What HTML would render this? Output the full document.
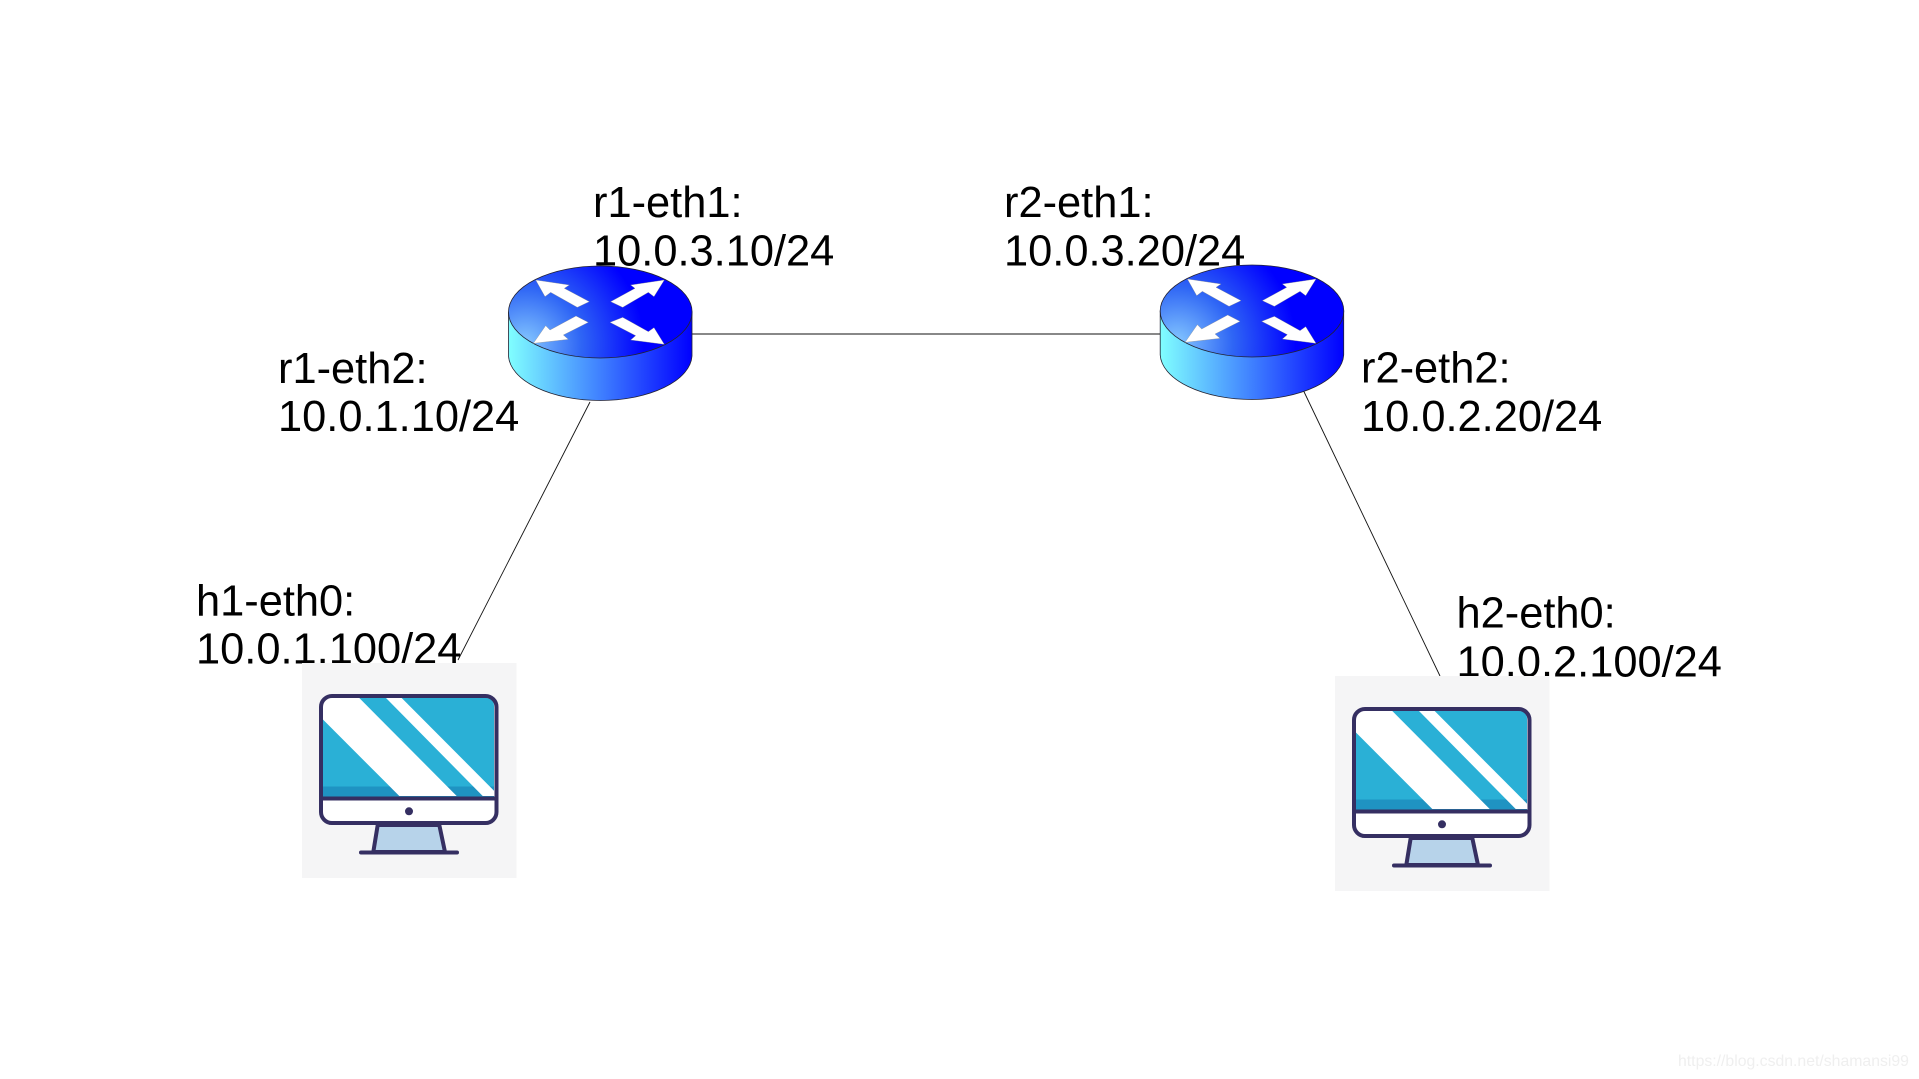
<!DOCTYPE html>
<html>
<head>
<meta charset="utf-8">
<style>
html,body{margin:0;padding:0;background:#fff;width:1919px;height:1079px;overflow:hidden}
svg{display:block}
text{font-family:"Liberation Sans",sans-serif;font-size:43.4px;fill:#000}
</style>
</head>
<body>
<svg width="1919" height="1079" viewBox="0 0 1919 1079" xmlns="http://www.w3.org/2000/svg">
<defs>
<linearGradient id="side" x1="0" y1="0" x2="1" y2="0">
<stop offset="0" stop-color="#80ffff"/>
<stop offset="0.5" stop-color="#3f80ff"/>
<stop offset="1" stop-color="#0000ff"/>
</linearGradient>
<radialGradient id="top" gradientUnits="userSpaceOnUse" cx="525" cy="344" r="140">
<stop offset="0" stop-color="#85c8ff"/>
<stop offset="0.4" stop-color="#2f66f5"/>
<stop offset="0.85" stop-color="#0000ff"/>
<stop offset="1" stop-color="#0000ff"/>
</radialGradient>
<g id="router">
<path d="M508.5 312 V356 A91.8 46 0 0 0 692 356 V312 Z" fill="url(#side)" stroke="#223" stroke-width="0.8"/>
<ellipse cx="600.3" cy="312" rx="91.8" ry="46" fill="url(#top)" stroke="#223" stroke-width="0.8"/>
<g transform="translate(480,160) scale(0.33333)" fill="#fff" stroke="#888" stroke-width="1">
<polygon points="167,360 268,375 253,385 328,425 292,442 212,397 195,410"/>
<polygon points="553,360 452,375 465,385 392,425 428,442 505,397 522,410"/>
<polygon points="160,550 265,538 250,525 325,487 288,468 210,510 197,497"/>
<polygon points="553,553 452,540 467,527 390,487 428,472 505,515 522,503"/>
</g>
</g>
<g id="host">
<rect x="302" y="663" width="214.5" height="215" fill="#f5f5f6"/>
<rect x="321" y="696" width="175.5" height="127" rx="11" fill="#fff"/>
<path d="M323 796 V706 Q323 698 331 698 H486 Q494 698 494 706 V796 Z" fill="#2ab0d6"/>
<rect x="323" y="786.5" width="171" height="10" fill="#1f93c2"/>
<polygon points="322.7,698 359.3,698 456.7,796 399.3,796 322.7,719.3" fill="#fff"/>
<polygon points="386,698 401.7,698 495,791.7 495,796 482.7,796" fill="#fff"/>
<rect x="321" y="696" width="175.5" height="127" rx="11" fill="none" stroke="#352f62" stroke-width="4"/>
<rect x="321" y="796.5" width="175.5" height="4" fill="#352f62"/>
<circle cx="409" cy="811.3" r="4" fill="#352f62"/>
<polygon points="377.7,825 439.3,825 445,852 373.3,852" fill="#b7d3ea" stroke="#352f62" stroke-width="4"/>
<line x1="361" y1="852.5" x2="457" y2="852.5" stroke="#352f62" stroke-width="4" stroke-linecap="round"/>
</g>
</defs>

<line x1="692" y1="334" x2="1160" y2="334" stroke="#111" stroke-width="0.9"/>
<line x1="590" y1="402" x2="458" y2="660" stroke="#111" stroke-width="0.9"/>
<line x1="1302.7" y1="389" x2="1440" y2="676" stroke="#111" stroke-width="0.9"/>

<text x="593" y="217">r1-eth1:</text>
<text x="593" y="265.5">10.0.3.10/24</text>
<text x="1004" y="217">r2-eth1:</text>
<text x="1004" y="265.5">10.0.3.20/24</text>
<text x="278" y="383">r1-eth2:</text>
<text x="278" y="431">10.0.1.10/24</text>
<text x="1361" y="382.5">r2-eth2:</text>
<text x="1361" y="431">10.0.2.20/24</text>
<text x="196" y="615.5">h1-eth0:</text>
<text x="196" y="663.5">10.0.1.100/24</text>
<text x="1456.5" y="627.5">h2-eth0:</text>
<text x="1456.5" y="676.5">10.0.2.100/24</text>

<use href="#router"/>
<use href="#router" transform="translate(651.7,-1)"/>
<use href="#host"/>
<use href="#host" transform="translate(1033,13)"/>

<text x="1678" y="1066" style="font-size:15.8px;fill:#efefef">https://blog.csdn.net/shamansi99</text>
</svg>
</body>
</html>
